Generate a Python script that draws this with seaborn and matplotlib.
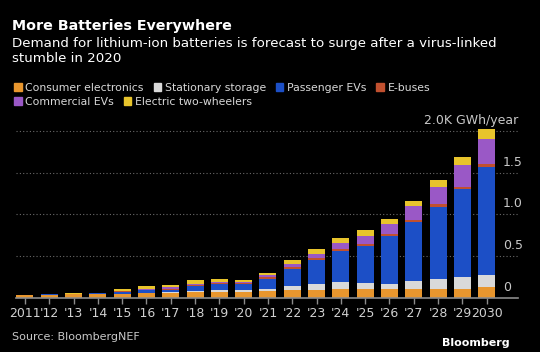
import numpy as np
import seaborn as sns
import matplotlib.pyplot as plt
import matplotlib.patches as mpatches

# Demand in thousand GWh (K GWh) per year
years = ["2011", "'12", "'13", "'14", "'15", "'16", "'17", "'18", "'19", "'20",
         "'21", "'22", "'23", "'24", "'25", "'26", "'27", "'28", "'29", "2030"]

consumer_electronics = [0.028, 0.035, 0.040, 0.042, 0.045, 0.052, 0.055, 0.065, 0.070, 0.065,
                        0.080, 0.090, 0.095, 0.105, 0.110, 0.110, 0.110, 0.110, 0.110, 0.130]
stationary_storage = [0.001, 0.001, 0.002, 0.003, 0.005, 0.010, 0.015, 0.015, 0.020, 0.030,
                      0.030, 0.050, 0.070, 0.080, 0.070, 0.060, 0.090, 0.120, 0.140, 0.140]
passenger_evs = [0.001, 0.003, 0.004, 0.006, 0.020, 0.025, 0.025, 0.060, 0.070, 0.070,
                 0.120, 0.210, 0.290, 0.380, 0.440, 0.570, 0.710, 0.860, 1.050, 1.300]
e_buses = [0.000, 0.000, 0.001, 0.002, 0.005, 0.010, 0.015, 0.015, 0.015, 0.010,
           0.015, 0.020, 0.025, 0.020, 0.025, 0.020, 0.025, 0.030, 0.030, 0.030]
commercial_evs = [0.000, 0.000, 0.000, 0.001, 0.003, 0.010, 0.015, 0.015, 0.015, 0.010,
                  0.025, 0.030, 0.045, 0.070, 0.090, 0.120, 0.160, 0.210, 0.260, 0.300]
two_wheelers = [0.001, 0.002, 0.005, 0.007, 0.030, 0.030, 0.030, 0.040, 0.040, 0.030,
                0.030, 0.050, 0.060, 0.060, 0.080, 0.070, 0.070, 0.080, 0.100, 0.130]

segments = ["Consumer electronics", "Stationary storage", "Passenger EVs",
            "E-buses", "Commercial EVs", "Electric two-wheelers"]
colors = ["#E8962E", "#D9D9D9", "#1C4FC6", "#C1502F", "#9A58C6", "#E8C42C"]
series = [consumer_electronics, stationary_storage, passenger_evs,
          e_buses, commercial_evs, two_wheelers]

y_ticks = [0, 0.5, 1.0, 1.5, 2.0]
y_labels = ["0", "0.5", "1.0", "1.5", "2.0K GWh/year"]

sns.set_theme(style="dark")
plt.rcParams['font.family'] = ['DejaVu Sans']

W, H = 540, 352
fig = plt.figure(figsize=(W / 100, H / 100), dpi=100, facecolor="black")
ax = fig.add_axes([16 / W, (H - 297.7) / H, 502 / W, 2.05 * 83.3 / H])
ax.set_facecolor("black")

# stacked bars, one seaborn call per segment
bottom = np.zeros(len(years))
for name, vals, col in zip(segments, series, colors):
    sns.barplot(x=years, y=vals, order=years, bottom=bottom, color=col, saturation=1,
                width=0.7, errorbar=None, linewidth=0, ax=ax)
    bottom = bottom + np.array(vals)

ax.set_xlim(-0.37, 20.29)
ax.set_ylim(0, 2.05)
ax.set_yticks(y_ticks[1:])
ax.set_yticklabels([])
ax.tick_params(axis="y", length=0)
ax.grid(axis="y", color="#6a6a6a", linestyle=(0, (1, 2)), linewidth=0.8)
ax.grid(axis="x", visible=False)
ax.set_axisbelow(True)
for side in ["top", "left", "right"]:
    ax.spines[side].set_visible(False)
ax.spines["bottom"].set_color("#8c8c8c")
ax.spines["bottom"].set_linewidth(1.2)
ax.tick_params(axis="x", length=4, width=1, color="#8c8c8c", colors="#d0d0d0",
               labelsize=9, pad=3, bottom=True)
for lab in ax.get_xticklabels():
    lab.set_color("#d0d0d0")

# value labels sit above the gridlines; numbers left-aligned, unit label right-aligned
for v, lab in zip(y_ticks, y_labels):
    if v < 2.0:
        ax.annotate(lab, xy=((503 - 16) / 502, v), xycoords=("axes fraction", "data"),
                    xytext=(0, 3), textcoords="offset points", ha="left", va="bottom",
                    color="#c8c8c8", fontsize=9)
    else:
        ax.annotate(lab, xy=(1, v), xycoords=("axes fraction", "data"), xytext=(0, 3),
                    textcoords="offset points", ha="right", va="bottom",
                    color="#c8c8c8", fontsize=9)

ax.set_xlabel("")
ax.set_ylabel("")

# titles
fig.text(12 / W, 1 - 26 / H, "More Batteries Everywhere", color="white",
         fontsize=10.3, fontweight="bold", va="center")
fig.text(12 / W, 1 - 37 / H,
         "Demand for lithium-ion batteries is forecast to surge after a virus-linked\nstumble in 2020",
         color="white", fontsize=9.6, va="top", linespacing=1.2)

# legend in two rows
handles = [mpatches.Patch(color=c, label=s) for s, c in zip(segments, colors)]
leg_kw = dict(frameon=False, handlelength=0.7, handleheight=0.7, handletextpad=0.35,
              columnspacing=0.9, fontsize=7.8, labelcolor="#d8d8d8", borderaxespad=0,
              borderpad=0, loc="center left")
leg1 = fig.legend(handles=handles[:4], ncol=4, bbox_to_anchor=(14 / W, 1 - 88 / H), **leg_kw)
leg2 = fig.legend(handles=handles[4:], ncol=2, bbox_to_anchor=(14 / W, 1 - 102 / H), **leg_kw)

fig.text(12 / W, 1 - 337 / H, "Source: BloombergNEF", color="#c8c8c8", fontsize=8, va="center")
fig.text(510 / W, 1 - 343 / H, "Bloomberg", color="white", fontsize=8,
         fontweight="bold", ha="right", va="center")

fig.savefig("out.png", dpi=100, facecolor="black")
